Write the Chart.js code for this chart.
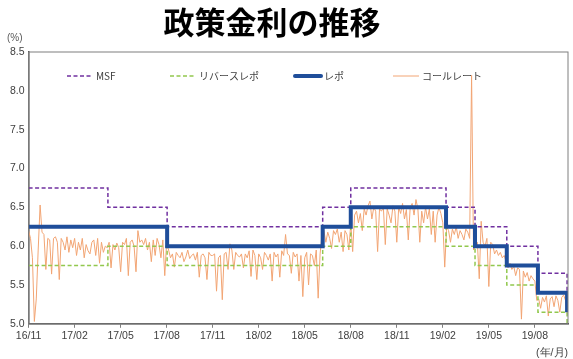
<!DOCTYPE html>
<html>
<head>
<meta charset="utf-8">
<script src="https://cdn.jsdelivr.net/npm/chart.js@4"></script>
<style>
  html, body { margin: 0; padding: 0; background: #fff; }
  #wrap { width: 573px; height: 359px; }
</style>
</head>
<body>
<div id="wrap"><canvas id="rateChart"></canvas></div>
<script>
        // x axis = months since 2016/11/01
        const xTickLabels = ['16/11', '17/02', '17/05', '17/08', '17/11', '18/02', '18/05', '18/08', '18/11', '19/02', '19/05', '19/08'];

        // policy rate changes (month position, rate %)
        const repoX = [0, 9.03, 19.17, 21.0, 27.21, 29.1, 31.17, 33.2, 35.1];
        const repoY = [6.25, 6.00, 6.25, 6.50, 6.25, 6.00, 5.75, 5.40, 5.15];
        const msfX = [0, 5.17, 9.03, 19.17, 21.0, 27.21, 29.1, 31.17, 33.2, 35.1];
        const msfY = [6.75, 6.50, 6.25, 6.50, 6.75, 6.50, 6.25, 6.00, 5.65, 5.40];
        const reverseX = [0, 5.17, 9.03, 19.17, 21.0, 27.21, 29.1, 31.17, 33.2, 35.1];
        const reverseY = [5.75, 6.00, 5.75, 6.00, 6.25, 6.00, 5.75, 5.50, 5.15, 4.90];

        // call rate, read every 1/8 month
        const callStep = 0.125;
        const callY = [
            6.20, 6.10, 5.85, 5.03, 5.32, 5.95, 6.53, 6.18,
            6.15, 5.70, 6.10, 6.08, 5.64, 6.10, 6.12, 6.05,
            5.57, 6.10, 6.05, 5.95, 6.12, 5.92, 6.08, 5.98,
            6.10, 5.88, 6.05, 5.95, 6.10, 5.85, 6.02, 5.94,
            5.90, 6.05, 6.08, 5.88, 6.10, 5.78, 6.05, 5.92,
            6.00, 5.98, 6.05, 5.72, 6.02, 5.95, 6.04, 5.98,
            5.67, 6.05, 6.02, 6.10, 5.62, 6.05, 6.08, 6.00,
            5.67, 6.20, 6.05, 6.08, 6.02, 6.10, 5.95, 6.05,
            5.80, 6.08, 5.88, 6.10, 6.02, 5.85, 6.08, 5.62,
            6.05, 5.95, 5.85, 5.90, 5.73, 5.92, 5.88, 5.85,
            5.92, 5.80, 5.86, 5.95, 5.84, 5.88, 5.90, 5.82,
            5.92, 5.60, 5.88, 5.90, 5.85, 5.57, 5.92, 5.88,
            5.88, 5.90, 5.42, 5.85, 5.88, 5.31, 5.90, 5.92,
            5.70, 6.03, 5.95, 5.70, 5.92, 5.88, 5.86, 5.90,
            5.72, 5.90, 5.85, 5.94, 5.61, 5.95, 5.88, 5.57,
            5.90, 5.85, 5.70, 5.92, 5.88, 5.82, 5.90, 5.55,
            5.92, 5.86, 5.90, 5.60, 5.94, 5.88, 6.15, 5.90,
            5.88, 5.65, 5.92, 5.86, 5.90, 5.55, 5.88, 5.35,
            5.85, 5.92, 5.50, 5.90, 5.88, 5.75, 5.95, 5.33,
            5.90, 6.15, 6.20, 6.05, 6.18, 6.10, 5.97, 6.20,
            6.15, 6.22, 6.05, 6.18, 5.93, 6.20, 6.15, 5.95,
            6.30, 5.93, 6.40, 6.45, 6.30, 6.42, 6.20, 6.48,
            6.40, 6.52, 6.58, 6.35, 6.50, 6.45, 5.93, 6.48,
            6.45, 6.50, 6.02, 6.48, 6.40, 6.30, 6.52, 6.45,
            6.05, 6.50, 6.42, 6.55, 6.35, 6.47, 6.08, 6.50,
            6.55, 6.40, 6.60, 6.48, 6.05, 6.45, 6.30, 6.50,
            6.35, 6.48, 6.15, 6.45, 6.05, 6.40, 6.50, 6.42,
            6.30, 5.73, 6.25, 6.20, 6.05, 6.22, 6.15, 6.25,
            6.10, 6.20, 6.15, 6.08, 6.22, 6.18, 6.10, 8.20,
            5.95, 6.00, 6.05, 5.58, 6.32, 6.05, 6.00, 6.10,
            5.48, 6.05, 6.02, 5.90, 5.95, 5.88, 5.92, 5.85,
            5.88, 5.80, 5.72, 5.78, 5.70, 5.74, 5.62, 5.72,
            5.70, 5.06, 5.68, 5.60, 5.66, 5.55, 5.62, 5.58,
            5.55, 5.30, 5.32, 5.20, 5.34, 5.28, 5.36, 5.10,
            5.32, 5.35, 5.22, 5.36, 5.30, 5.15, 5.34, 5.37,
            5.30, 5.12
        ];

        const toPoints = (xs, ys) => xs.map((x, i) => ({ x: x, y: ys[i] }));
        const tickFont = { family: '"Liberation Sans", sans-serif', size: 10.5 };

        // title, unit, frame and in-plot legend
        const overlay = {
            id: 'overlay',
            afterDraw(chart, args, opts) {
                const { ctx, chartArea: a } = chart;
                ctx.save();
                ctx.strokeStyle = '#7f7f7f';
                ctx.lineWidth = 1;
                ctx.strokeRect(a.left, a.top, a.right - a.left, a.bottom - a.top);

                ctx.fillStyle = '#000';
                ctx.font = 'bold 31px "Noto Sans CJK JP"';
                ctx.textAlign = 'center';
                ctx.textBaseline = 'middle';
                ctx.fillText('政策金利の推移', 272, 22);

                ctx.fillStyle = '#595959';
                ctx.font = '10px "Liberation Sans"';
                ctx.textAlign = 'left';
                ctx.fillText('(%)', 7, 38);

                ctx.font = '10px "Noto Sans CJK JP"';
                opts.order.forEach((dsIndex, i) => {
                    const ds = chart.data.datasets[dsIndex];
                    const x = opts.slots[i];
                    const y = 76;
                    ctx.beginPath();
                    ctx.setLineDash(ds.borderDash || []);
                    ctx.lineWidth = ds.borderWidth;
                    ctx.lineCap = ds.borderWidth > 2 ? 'round' : 'butt';
                    ctx.strokeStyle = ds.borderColor;
                    ctx.moveTo(x, y);
                    ctx.lineTo(x + 26, y);
                    ctx.stroke();
                    ctx.setLineDash([]);
                    ctx.fillStyle = '#404040';
                    ctx.fillText(ds.label, x + 29, y);
                });
                ctx.restore();
            }
        };

        const ctx = document.getElementById('rateChart').getContext('2d');
        new Chart(ctx, {
            type: 'line',
            data: {
                datasets: [{
                    label: 'レポ',
                    data: toPoints(repoX, repoY),
                    borderColor: '#1F4E9A',
                    borderWidth: 4,
                    stepped: true
                }, {
                    label: 'MSF',
                    data: toPoints(msfX, msfY),
                    borderColor: '#7030A0',
                    borderWidth: 1.5,
                    borderDash: [4, 2.5],
                    stepped: true
                }, {
                    label: 'リバースレポ',
                    data: toPoints(reverseX, reverseY),
                    borderColor: '#92C84E',
                    borderWidth: 1.5,
                    borderDash: [4, 2.5],
                    stepped: true
                }, {
                    label: 'コールレート',
                    data: callY.map((v, i) => ({ x: i * callStep, y: v })),
                    borderColor: '#F2A574',
                    borderWidth: 1,
                    tension: 0
                }]
            },
            options: {
                responsive: true,
                maintainAspectRatio: false,
                animation: false,
                elements: { point: { radius: 0 } },
                layout: { padding: { top: 52, left: 6, right: 5, bottom: 0 } },
                plugins: {
                    legend: { display: false },
                    tooltip: { enabled: false },
                    overlay: { order: [1, 2, 0, 3], slots: [67, 170, 295, 393] }
                },
                scales: {
                    x: {
                        type: 'linear',
                        min: 0,
                        max: 35.16,
                        grid: { drawOnChartArea: false, tickLength: 4, color: '#7f7f7f' },
                        border: { color: '#404040', width: 1.5 },
                        ticks: {
                            stepSize: 3,
                            includeBounds: false,
                            autoSkip: false,
                            maxRotation: 0,
                            padding: 2,
                            color: '#404040',
                            font: tickFont,
                            callback: function(value) {
                                return xTickLabels[Math.round(value / 3)] ?? null;
                            }
                        },
                        title: {
                            display: true,
                            text: '(年/月)',
                            align: 'end',
                            color: '#404040',
                            font: tickFont,
                            padding: { top: 2, bottom: 0 }
                        }
                    },
                    y: {
                        min: 5,
                        max: 8.5,
                        grid: { drawOnChartArea: false, drawTicks: false },
                        border: { color: '#404040', width: 1.5 },
                        ticks: {
                            stepSize: 0.5,
                            padding: 4,
                            color: '#404040',
                            font: tickFont,
                            callback: function(value) {
                                return value.toFixed(1);
                            }
                        }
                    }
                }
            },
            plugins: [overlay]
        });
</script>
</body>
</html>
